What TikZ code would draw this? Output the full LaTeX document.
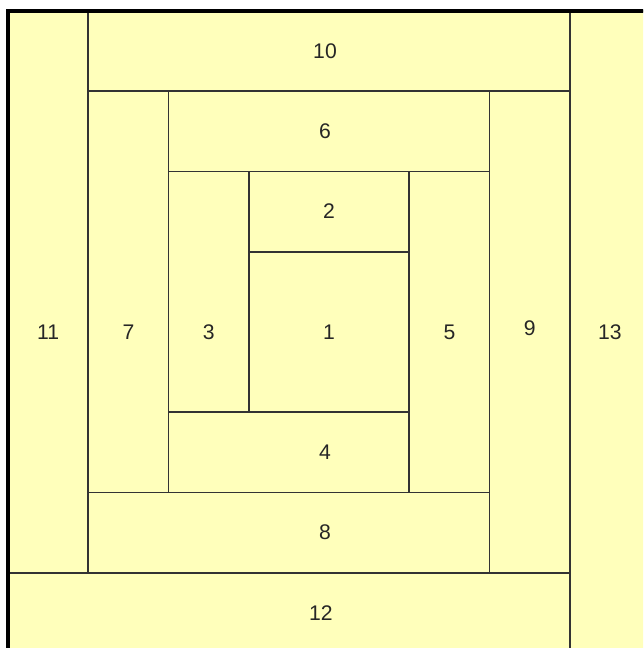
\documentclass[tikz,border=0pt]{standalone}
\usepackage{fontspec}
\setmainfont{Liberation Sans}
\usepackage{xcolor}
\definecolor{patch}{RGB}{255,255,187}
% strips: corner, corner, label position, number (centre first)
\def\strips{3/3/5/5/4/4/1, 3/2/5/3/4/2.5/2,
  2/2/3/5/2.5/4/3, 2/5/5/6/3.95/5.5/4, 5/2/6/6/5.5/4/5, 2/1/6/2/3.95/1.5/6,
  1/1/2/6/1.5/4/7, 1/6/6/7/3.95/6.5/8, 6/1/7/7/6.5/3.95/9, 1/0/7/1/3.95/0.5/10,
  0/0/1/7/0.5/4/11, 0/7/7/8/3.9/7.5/12, 7/0/8/8/7.5/4/13}
\begin{document}
\begin{tikzpicture}[x=2cm,y=-2cm,
  piece/.style={draw=black!80,line width=1.3pt},
  num/.style={font=\fontsize{15}{17}\selectfont,text=black!85}]
\useasboundingbox (-0.1,-0.137) rectangle (7.913,7.938);
\clip (-0.1,-0.137) rectangle (7.913,7.938);
\fill[patch] (0,0) rectangle (8,8);
\foreach \a/\b/\c/\d/\lx/\ly/\n in \strips
{
  \draw[piece] (\a,\b) rectangle (\c,\d);
  \node[num] (p\n) at (\lx,\ly) {\n};
}
\draw[line width=2.2pt] (0,8) -- (0,0) -- (8,0);
\end{tikzpicture}
\end{document}
